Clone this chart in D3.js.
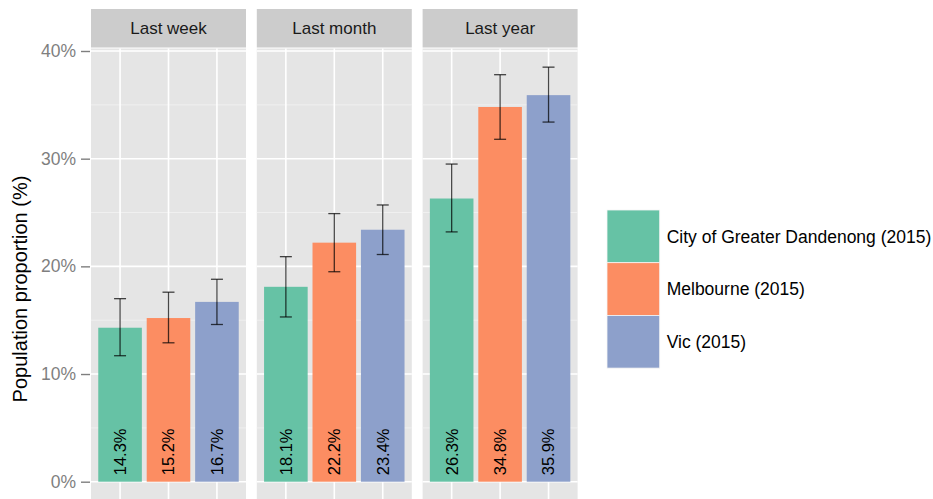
<!DOCTYPE html>
<html>
<head>
<meta charset="utf-8">
<script src="https://cdn.jsdelivr.net/npm/d3@7"></script>
<style>
  html, body { margin: 0; padding: 0; background: #ffffff; }
  svg { display: block; font-family: "Liberation Sans", Arial, sans-serif; }
</style>
</head>
<body>
<svg id="chart" width="933" height="499"></svg>
<script>
// Time periods (facets) and areas (series)
const periods = ["Last week", "Last month", "Last year"];
const areas = ["City of Greater Dandenong (2015)", "Melbourne (2015)", "Vic (2015)"];
const areaColors = ["#66C2A5", "#FC8D62", "#8DA0CB"];

// Proportion (%) per area, in period order
const dandenongValues = [14.3, 18.1, 26.3];
const melbourneValues = [15.2, 22.2, 34.8];
const vicValues = [16.7, 23.4, 35.9];

// 95% confidence limits per area, in period order
const dandenongLower = [11.7, 15.3, 23.2];
const dandenongUpper = [17.0, 20.9, 29.5];
const melbourneLower = [12.9, 19.5, 31.8];
const melbourneUpper = [17.6, 24.9, 37.8];
const vicLower = [14.6, 21.1, 33.4];
const vicUpper = [18.8, 25.7, 38.5];

const yTicks = [0, 10, 20, 30, 40];
const yMinor = [5, 15, 25, 35];

const seriesValues = [dandenongValues, melbourneValues, vicValues];
const seriesLower = [dandenongLower, melbourneLower, vicLower];
const seriesUpper = [dandenongUpper, melbourneUpper, vicUpper];

const svg = d3.select("#chart");

// Layout
const panelW = 155, panelGap = 10.8, panelX0 = 91;
const stripTop = 9, stripBottom = 47.5;
const panelTop = 48.5, panelBottom = 505;

const y = d3.scaleLinear().domain([0, 40]).range([481.7, 51]);

const facetX = d3.scaleBand().domain(periods)
  .range([panelX0, panelX0 + 3 * panelW + 2 * panelGap])
  .paddingInner(panelGap / (panelW + panelGap));

// discrete x inside a panel: positions 1..3 with 0.6 expansion on each side
const xIn = d3.scaleLinear().domain([0.4, 3.6]).range([0, panelW]);
const barW = xIn(1.45) - xIn(1);

const rows = [];
periods.forEach((p, pi) => {
  areas.forEach((a, ai) => {
    rows.push({
      period: p, area: a, idx: ai,
      value: seriesValues[ai][pi],
      lo: seriesLower[ai][pi],
      hi: seriesUpper[ai][pi]
    });
  });
});

const color = d3.scaleOrdinal().domain(areas).range(areaColors);

// Facet panels
const panels = svg.selectAll("g.panel").data(periods).join("g")
  .attr("class", "panel")
  .attr("transform", d => `translate(${facetX(d)},0)`);

panels.append("rect")
  .attr("x", 0).attr("y", stripTop)
  .attr("width", panelW).attr("height", stripBottom - stripTop)
  .attr("fill", "#CCCCCC");

panels.append("text")
  .attr("x", panelW / 2).attr("y", (stripTop + stripBottom) / 2)
  .attr("dy", "0.36em")
  .attr("text-anchor", "middle")
  .attr("font-size", 17)
  .attr("fill", "#1A1A1A")
  .text(d => d);

panels.append("rect")
  .attr("x", 0).attr("y", panelTop)
  .attr("width", panelW).attr("height", panelBottom - panelTop)
  .attr("fill", "#E5E5E5");

// minor grid
panels.selectAll("line.minor").data(yMinor).join("line")
  .attr("x1", 0).attr("x2", panelW)
  .attr("y1", d => y(d)).attr("y2", d => y(d))
  .attr("stroke", "#F2F2F2").attr("stroke-width", 0.8);

// major grid
panels.selectAll("line.major").data(yTicks).join("line")
  .attr("x1", 0).attr("x2", panelW)
  .attr("y1", d => y(d)).attr("y2", d => y(d))
  .attr("stroke", "#FFFFFF").attr("stroke-width", 1.6);

panels.selectAll("line.vmajor").data([1, 2, 3]).join("line")
  .attr("x1", d => xIn(d)).attr("x2", d => xIn(d))
  .attr("y1", panelTop).attr("y2", panelBottom)
  .attr("stroke", "#FFFFFF").attr("stroke-width", 1.6);

// Bars, error bars and value labels
panels.each(function (p) {
  const g = d3.select(this);
  const data = rows.filter(r => r.period === p);

  g.selectAll("rect.bar").data(data).join("rect")
    .attr("class", "bar")
    .attr("x", d => xIn(d.idx + 1) - barW)
    .attr("width", barW * 2)
    .attr("y", d => y(d.value))
    .attr("height", d => y(0) - y(d.value))
    .attr("fill", d => color(d.area));

  const eb = g.selectAll("g.err").data(data).join("g")
    .attr("class", "err")
    .attr("stroke", "#000000").attr("stroke-opacity", 0.72)
    .attr("stroke-width", 1.3);
  eb.append("line")
    .attr("x1", d => xIn(d.idx + 1)).attr("x2", d => xIn(d.idx + 1))
    .attr("y1", d => y(d.lo)).attr("y2", d => y(d.hi));
  eb.append("line")
    .attr("x1", d => xIn(d.idx + 1) - 6).attr("x2", d => xIn(d.idx + 1) + 6)
    .attr("y1", d => y(d.hi)).attr("y2", d => y(d.hi));
  eb.append("line")
    .attr("x1", d => xIn(d.idx + 1) - 6).attr("x2", d => xIn(d.idx + 1) + 6)
    .attr("y1", d => y(d.lo)).attr("y2", d => y(d.lo));

  g.selectAll("text.val").data(data).join("text")
    .attr("class", "val")
    .attr("transform", d => `translate(${xIn(d.idx + 1)},${y(0.6)}) rotate(-90)`)
    .attr("dy", "0.36em")
    .attr("text-anchor", "start")
    .attr("font-size", 16.5)
    .attr("fill", "#000000")
    .text(d => d.value.toFixed(1) + "%");
});

// Y axis
const yAxis = d3.axisLeft(y).tickValues(yTicks)
  .tickFormat(d => d + "%").tickSize(9).tickPadding(5);
const ay = svg.append("g")
  .attr("transform", `translate(${panelX0 - 1},0)`)
  .call(yAxis);
ay.select(".domain").remove();
ay.selectAll(".tick line").attr("stroke", "#7F7F7F").attr("stroke-width", 1.4);
ay.selectAll(".tick text").attr("fill", "#7F7F7F")
  .attr("font-size", 17.5)
  .attr("font-family", "Liberation Sans, Arial, sans-serif");

svg.append("text")
  .attr("transform", "translate(27,289) rotate(-90)")
  .attr("text-anchor", "middle")
  .attr("font-size", 20)
  .attr("fill", "#000000")
  .text("Population proportion (%)");

// Legend
const keySize = 52.7, legX = 607, legY = 210;
const leg = svg.append("g").attr("transform", `translate(${legX},${legY})`);
const items = leg.selectAll("g").data(areas).join("g")
  .attr("transform", (d, i) => `translate(0,${i * keySize})`);
items.append("rect")
  .attr("width", keySize).attr("height", keySize)
  .attr("fill", d => color(d))
  .attr("stroke", "#F5F5F5").attr("stroke-width", 0.8);
items.append("text")
  .attr("x", keySize + 7).attr("y", keySize / 2)
  .attr("dy", "0.36em")
  .attr("font-size", 17.5)
  .attr("fill", "#000000")
  .text(d => d);
</script>
</body>
</html>
